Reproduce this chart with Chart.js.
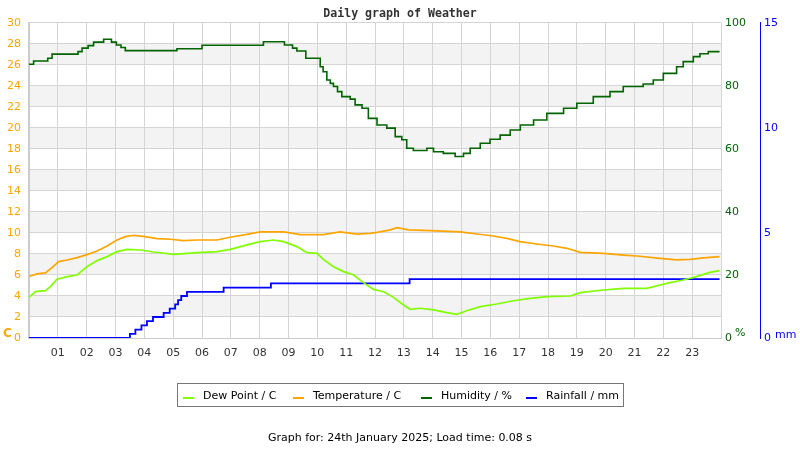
<!DOCTYPE html>
<html>
<head>
<meta charset="utf-8">
<script src="https://cdn.jsdelivr.net/npm/chart.js@4.4.1/dist/chart.umd.min.js"></script>
<style>
  body { margin: 0; background: #fff; font-family: "DejaVu Sans", sans-serif; }
  #wrap { position: relative; width: 800px; height: 450px; }
  #wrap canvas { position: absolute; left: 0; top: 0; }
  .unit { position: absolute; font-size: 11px; line-height: 12px; }
  #legend { position: absolute; left: 177px; top: 383px; width: 445px; height: 22px; border: 1px solid #777; }
  .sw { position: absolute; top: 13px; width: 11px; height: 2px; }
  .lt { position: absolute; top: 5px; font-size: 11px; line-height: 13px; color: #000; white-space: nowrap; }
  #footer { position: absolute; left: 0; width: 800px; top: 431px; text-align: center; font-size: 11px; color: #000; }
</style>
</head>
<body>
<div id="wrap">
  <canvas id="weatherChart" width="800" height="450"></canvas>
  <span class="unit" style="left:3px;top:327px;color:#FFA500;font-weight:bold;font-size:12px">C</span>
  <span class="unit" style="left:735px;top:327px;color:#006400;">%</span>
  <span class="unit" style="left:775px;top:329px;color:#0000FF;">mm</span>
  <div id="legend"></div>
  <div id="footer">Graph for: 24th January 2025; Load time: 0.08 s</div>
</div>
<script>
// readings taken off the graph, x = hour of day
const dewHours = [0, 0.22, 0.57, 0.74, 0.97, 1.32, 1.67, 2.01, 2.36, 2.71, 3.05, 3.4, 3.86, 4.32, 5.02, 5.83, 6.52, 6.98, 7.56, 8.02, 8.48, 8.83, 9.29, 9.64, 9.99, 10.21, 10.56, 10.91, 11.26, 11.6, 11.95, 12.3, 12.64, 12.99, 13.22, 13.57, 14.03, 14.49, 14.84, 15.18, 15.65, 16.22, 16.8, 17.38, 17.96, 18.77, 19.12, 19.92, 20.61, 21.42, 21.89, 22.23, 22.69, 23.15, 23.61, 23.95];
const dewPoint = [3.87, 4.41, 4.51, 4.89, 5.59, 5.84, 6.0, 6.79, 7.37, 7.75, 8.22, 8.44, 8.38, 8.19, 7.97, 8.13, 8.22, 8.44, 8.86, 9.17, 9.33, 9.17, 8.7, 8.13, 8.06, 7.49, 6.79, 6.32, 6.0, 5.27, 4.63, 4.41, 3.87, 3.14, 2.73, 2.83, 2.67, 2.41, 2.25, 2.6, 2.98, 3.24, 3.55, 3.78, 3.94, 4.0, 4.32, 4.57, 4.73, 4.73, 5.05, 5.27, 5.52, 5.84, 6.25, 6.41];

const tempHours = [0, 0.28, 0.57, 0.8, 1.03, 1.32, 1.67, 2.01, 2.36, 2.71, 3.05, 3.34, 3.63, 4.03, 4.44, 4.9, 5.36, 5.83, 6.52, 6.98, 7.56, 8.02, 8.83, 9.41, 10.21, 10.79, 11.37, 11.83, 12.07, 12.53, 12.76, 13.16, 13.91, 14.95, 15.53, 16.11, 16.57, 17.03, 17.61, 18.19, 18.66, 19.12, 19.92, 20.61, 21.08, 21.89, 22.46, 22.92, 23.39, 23.95];
const temperature = [5.85, 6.1, 6.2, 6.7, 7.27, 7.43, 7.65, 7.94, 8.29, 8.76, 9.33, 9.65, 9.78, 9.65, 9.46, 9.4, 9.27, 9.33, 9.33, 9.59, 9.87, 10.1, 10.1, 9.84, 9.84, 10.1, 9.9, 9.97, 10.06, 10.29, 10.5, 10.29, 10.22, 10.1, 9.9, 9.71, 9.49, 9.17, 8.95, 8.76, 8.54, 8.16, 8.06, 7.9, 7.81, 7.59, 7.43, 7.49, 7.62, 7.75];

const humHours = [0, 0.16, 0.65, 0.8, 1.7, 1.84, 2.05, 2.24, 2.59, 2.86, 3.03, 3.19, 3.34, 5.13, 6.0, 8.13, 8.86, 9.14, 9.29, 9.6, 10.1, 10.2, 10.33, 10.45, 10.56, 10.7, 10.85, 11.14, 11.31, 11.55, 11.77, 12.07, 12.41, 12.7, 12.93, 13.1, 13.33, 13.8, 14.03, 14.37, 14.78, 15.07, 15.3, 15.65, 15.99, 16.34, 16.69, 17.04, 17.5, 17.96, 18.54, 19.0, 19.57, 20.15, 20.61, 21.3, 21.65, 22.0, 22.46, 22.69, 23.04, 23.27, 23.56, 23.95];
const humidity = [86.9, 87.9, 88.8, 90.1, 90.9, 92.0, 92.8, 93.9, 94.8, 93.9, 93.0, 92.2, 91.2, 91.8, 92.9, 94.0, 93.0, 92.0, 91.1, 88.8, 86.1, 84.5, 81.9, 80.8, 79.8, 78.2, 76.6, 75.8, 74.0, 72.9, 69.7, 67.6, 66.6, 63.9, 62.9, 60.2, 59.5, 60.2, 59.1, 58.6, 57.6, 58.6, 60.2, 61.8, 63.1, 64.4, 66.0, 67.6, 69.2, 71.3, 72.9, 74.5, 76.6, 78.2, 79.8, 80.6, 81.9, 84.0, 86.1, 87.7, 89.3, 90.2, 90.9, 90.9];

const rainHours = [0, 3.5, 3.69, 3.9, 4.09, 4.3, 4.67, 4.88, 5.07, 5.17, 5.28, 5.48, 6.75, 8.39, 13.2, 23.95];
const rainfall = [0, 0.2, 0.4, 0.6, 0.8, 1.0, 1.2, 1.4, 1.6, 1.8, 2.0, 2.2, 2.4, 2.6, 2.8, 2.8];

const hourLabels = ['01','02','03','04','05','06','07','08','09','10','11','12','13','14','15','16','17','18','19','20','21','22','23'];

const series = [
  { name: 'Dew Point / C', color: '#80FF00', axis: 'yT', hours: dewHours, values: dewPoint, stepped: false, width: 1.7 },
  { name: 'Temperature / C', color: '#FFA500', axis: 'yT', hours: tempHours, values: temperature, stepped: false, width: 1.7 },
  { name: 'Humidity / %', color: '#006400', axis: 'yH', hours: humHours, values: humidity, stepped: true, width: 1.6 },
  { name: 'Rainfall / mm', color: '#0000FF', axis: 'yR', hours: rainHours, values: rainfall, stepped: true, width: 1.8 }
];

// legend (html, below the chart)
const legendLefts = [5, 115, 243, 348];
const legend = document.getElementById('legend');
series.forEach((s, i) => {
  legend.insertAdjacentHTML('beforeend',
    '<div class="sw" style="left:' + legendLefts[i] + 'px;background:' + s.color + '"></div>' +
    '<div class="lt" style="left:' + (legendLefts[i] + 20) + 'px">' + s.name + '</div>');
});

// alternating grey bands behind the grid
const bandPlugin = {
  id: 'bands',
  beforeDraw(chart) {
    const { ctx, chartArea, scales } = chart;
    ctx.save();
    ctx.fillStyle = '#f3f3f3';
    for (let v = 2; v < 30; v += 4) {
      const top = scales.yT.getPixelForValue(v + 2);
      const bot = scales.yT.getPixelForValue(v);
      ctx.fillRect(chartArea.left, top, chartArea.right - chartArea.left, bot - top);
    }
    ctx.restore();
  }
};

Chart.defaults.font.family = 'DejaVu Sans';
Chart.defaults.font.size = 11;

const ctx = document.getElementById('weatherChart').getContext('2d');
new Chart(ctx, {
  type: 'line',
  data: {
    datasets: series.map(s => ({
      label: s.name,
      data: s.hours.map((h, i) => ({ x: h, y: s.values[i] })),
      borderColor: s.color,
      borderWidth: s.width,
      pointRadius: 0,
      stepped: s.stepped,
      tension: 0,
      yAxisID: s.axis
    }))
  },
  options: {
    responsive: false,
    animation: false,
    layout: { padding: { bottom: 82 } },
    plugins: {
      legend: { display: false },
      tooltip: { enabled: false },
      title: {
        display: true,
        text: 'Daily graph of Weather',
        color: '#333',
        font: { family: 'DejaVu Sans Mono', weight: 'bold', size: 11.6 },
        padding: { top: 7, bottom: 2 }
      }
    },
    scales: {
      x: {
        type: 'linear',
        min: 0,
        max: 24,
        ticks: {
          stepSize: 1,
          autoSkip: false,
          maxRotation: 0,
          padding: 9,
          color: '#333',
          callback: v => (v >= 1 && v <= 23) ? hourLabels[v - 1] : ''
        },
        grid: { color: '#d4d4d4', drawTicks: false },
        border: { color: '#cccccc' },
        afterFit: s => { s.height = 30; }
      },
      yT: {
        position: 'left',
        min: 0,
        max: 30,
        ticks: { stepSize: 2, color: '#FFA500', padding: 8 },
        grid: { color: '#d4d4d4', drawTicks: false },
        border: { color: '#cccccc', width: 2 },
        afterFit: s => { s.width = 29; }
      },
      yH: {
        position: 'right',
        min: 0,
        max: 100,
        ticks: { stepSize: 20, color: '#006400', padding: 4 },
        grid: { display: false, drawTicks: false },
        border: { display: false },
        afterFit: s => { s.width = 39; }
      },
      yR: {
        position: 'right',
        min: 0,
        max: 15,
        ticks: { stepSize: 5, color: '#0000FF', padding: 4 },
        grid: { display: false, drawTicks: false },
        border: { display: true, color: '#0000FF', width: 1 },
        afterFit: s => { s.width = 40; }
      }
    }
  },
  plugins: [bandPlugin]
});
</script>
</body>
</html>
